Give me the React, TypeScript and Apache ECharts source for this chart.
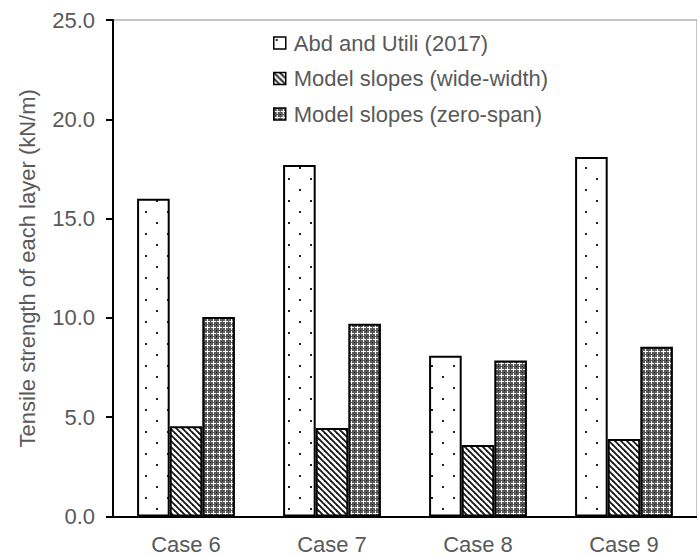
import React, { useEffect, useRef } from "react";
import * as echarts from "echarts";

const categories = ["Case 6", "Case 7", "Case 8", "Case 9"];
const abdUtili = [16.0, 17.7, 8.1, 18.1];
const wideWidth = [4.55, 4.45, 3.6, 3.9];
const zeroSpan = [10.05, 9.7, 7.85, 8.55];
const seriesNames = ["Abd and Utili (2017)", "Model slopes (wide-width)", "Model slopes (zero-span)"];
const yAxisName = "Tensile strength of each layer (kN/m)";

function makeCanvas(w: number, h: number, draw: (ctx: CanvasRenderingContext2D) => void) {
  const c = document.createElement("canvas");
  c.width = w;
  c.height = h;
  const ctx = c.getContext("2d")!;
  draw(ctx);
  return c;
}

function dotPattern() {
  return makeCanvas(22, 22, (ctx) => {
    ctx.fillStyle = "#ffffff";
    ctx.fillRect(0, 0, 22, 22);
    ctx.fillStyle = "#222222";
    ctx.fillRect(2, 2, 2, 2);
    ctx.fillRect(13, 13, 2, 2);
  });
}

function hatchPattern() {
  return makeCanvas(6, 6, (ctx) => {
    ctx.fillStyle = "#ffffff";
    ctx.fillRect(0, 0, 6, 6);
    ctx.strokeStyle = "#1a1a1a";
    ctx.lineWidth = 1.9;
    for (let k = -1; k <= 1; k++) {
      ctx.beginPath();
      ctx.moveTo(-2 + k * 6, -2);
      ctx.lineTo(8 + k * 6, 8);
      ctx.stroke();
    }
  });
}

function crossPattern() {
  return makeCanvas(6, 6, (ctx) => {
    ctx.fillStyle = "#595959";
    ctx.fillRect(0, 0, 6, 6);
    ctx.fillStyle = "#ffffff";
    ctx.fillRect(1, 3, 5, 1);
    ctx.fillRect(3, 1, 1, 5);
    ctx.fillStyle = "#111111";
    ctx.fillRect(0, 0, 1, 1);
  });
}

export default function App() {
  const ref = useRef<HTMLDivElement>(null);
  useEffect(() => {
    if (!ref.current) return;
    const chart = echarts.init(ref.current, undefined, { renderer: "svg" });
    const font = "'Liberation Sans', Arial, sans-serif";
    const textColor = "#595959";
    const patterns = [dotPattern(), hatchPattern(), crossPattern()];
    const datas = [abdUtili, wideWidth, zeroSpan];
    chart.setOption({
      animation: false,
      backgroundColor: "#ffffff",
      grid: {
        left: 113,
        top: 20,
        width: 597,
        bottom: 39.5,
        show: true,
        borderColor: "#8c8c8c",
        borderWidth: 1,
        containLabel: false,
      },
      legend: {
        orient: "vertical",
        left: 273,
        top: 32,
        padding: 0,
        itemWidth: 12,
        itemHeight: 12,
        itemGap: 13.5,
        icon: "rect",
        textStyle: {
          fontFamily: font,
          fontSize: 22,
          color: textColor,
          lineHeight: 22,
          padding: [0, 0, 0, 3],
        },
        itemStyle: { borderColor: "#000", borderWidth: 1.5 },
        data: seriesNames,
      },
      xAxis: {
        type: "category",
        data: categories,
        axisLine: { show: true, lineStyle: { color: "#000", width: 2 } },
        axisTick: { show: false },
        axisLabel: { fontFamily: font, fontSize: 22, color: textColor, margin: 17 },
        splitLine: { show: false },
      },
      yAxis: {
        type: "value",
        min: 0,
        max: 25,
        interval: 5,
        name: yAxisName,
        nameLocation: "middle",
        nameRotate: 90,
        nameGap: 75,
        nameTextStyle: { fontFamily: font, fontSize: 22, color: textColor },
        axisLine: { show: true, lineStyle: { color: "#000", width: 2 } },
        axisTick: { show: true, length: 7, lineStyle: { color: "#000", width: 2 } },
        axisLabel: {
          fontFamily: font,
          fontSize: 22,
          color: textColor,
          margin: 18,
          formatter: (v: number) => v.toFixed(1),
        },
        splitLine: { show: false },
      },
      series: seriesNames.map((name, i) => ({
        name,
        type: "bar",
        data: datas[i],
        barGap: "0%",
        barCategoryGap: "33%",
        itemStyle: {
          color: { image: patterns[i], repeat: "repeat" },
          borderColor: "#000",
          borderWidth: 2,
        },
      })),
    });
    return () => chart.dispose();
  }, []);
  return (
    <div
      ref={ref}
      style={{ position: "fixed", left: 0, top: 0, width: 697, height: 556, background: "#fff" }}
    />
  );
}
